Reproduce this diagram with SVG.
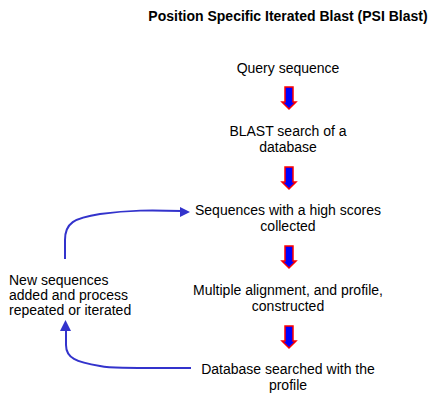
<svg xmlns="http://www.w3.org/2000/svg" width="436" height="400" viewBox="0 0 436 400">
<style>
text{font-family:"Liberation Sans",Arial,sans-serif;font-size:14px;fill:#000}
.c{text-anchor:middle}
.t{font-weight:bold}
.blk{fill:#0000ff;stroke:#ff0000;stroke-width:1.5}
.ln{fill:none;stroke:#3333cc;stroke-width:2}
.hd{fill:#3333cc}
</style>
<defs>
<path id="blk" class="blk" d="M285,0 L293,0 L293,15 L296,15 L289,22 L282,15 L285,15 Z"/>
</defs>
<rect width="436" height="400" fill="#fff"/>
<g id="title"><text class="c t" x="288" y="21">Position Specific Iterated Blast (PSI Blast)</text></g>
<g id="n1"><text class="c" x="288" y="73">Query sequence</text></g>
<g id="n2"><text class="c" x="288" y="136">BLAST search of a</text><text class="c" x="288" y="152">database</text></g>
<g id="n3"><text class="c" x="288" y="215">Sequences with a high scores</text><text class="c" x="288" y="231">collected</text></g>
<g id="n4"><text class="c" x="288" y="295">Multiple alignment, and profile,</text><text class="c" x="288" y="311">constructed</text></g>
<g id="n5"><text class="c" x="288" y="374">Database searched with the</text><text class="c" x="288" y="390">profile</text></g>
<g id="n6"><text x="9" y="285">New sequences</text><text x="9" y="300">added and process</text><text x="9" y="315">repeated or iterated</text></g>
<g id="connectors">
<use href="#blk" y="87"/>
<use href="#blk" y="167"/>
<use href="#blk" y="246"/>
<use href="#blk" y="326"/>
<path class="ln" d="M65,259 L65,240 C65,223 74,218 100,214 C130,210 150,210 182,211"/>
<polygon class="hd" points="180,207 190,212 180,217"/>
<path class="ln" d="M66,330 L66,345 C66,358 76,362 100,366 C110,368 120,368 191,368"/>
<polygon class="hd" points="60,331 65.5,320 71,331"/>
</g>
</svg>
